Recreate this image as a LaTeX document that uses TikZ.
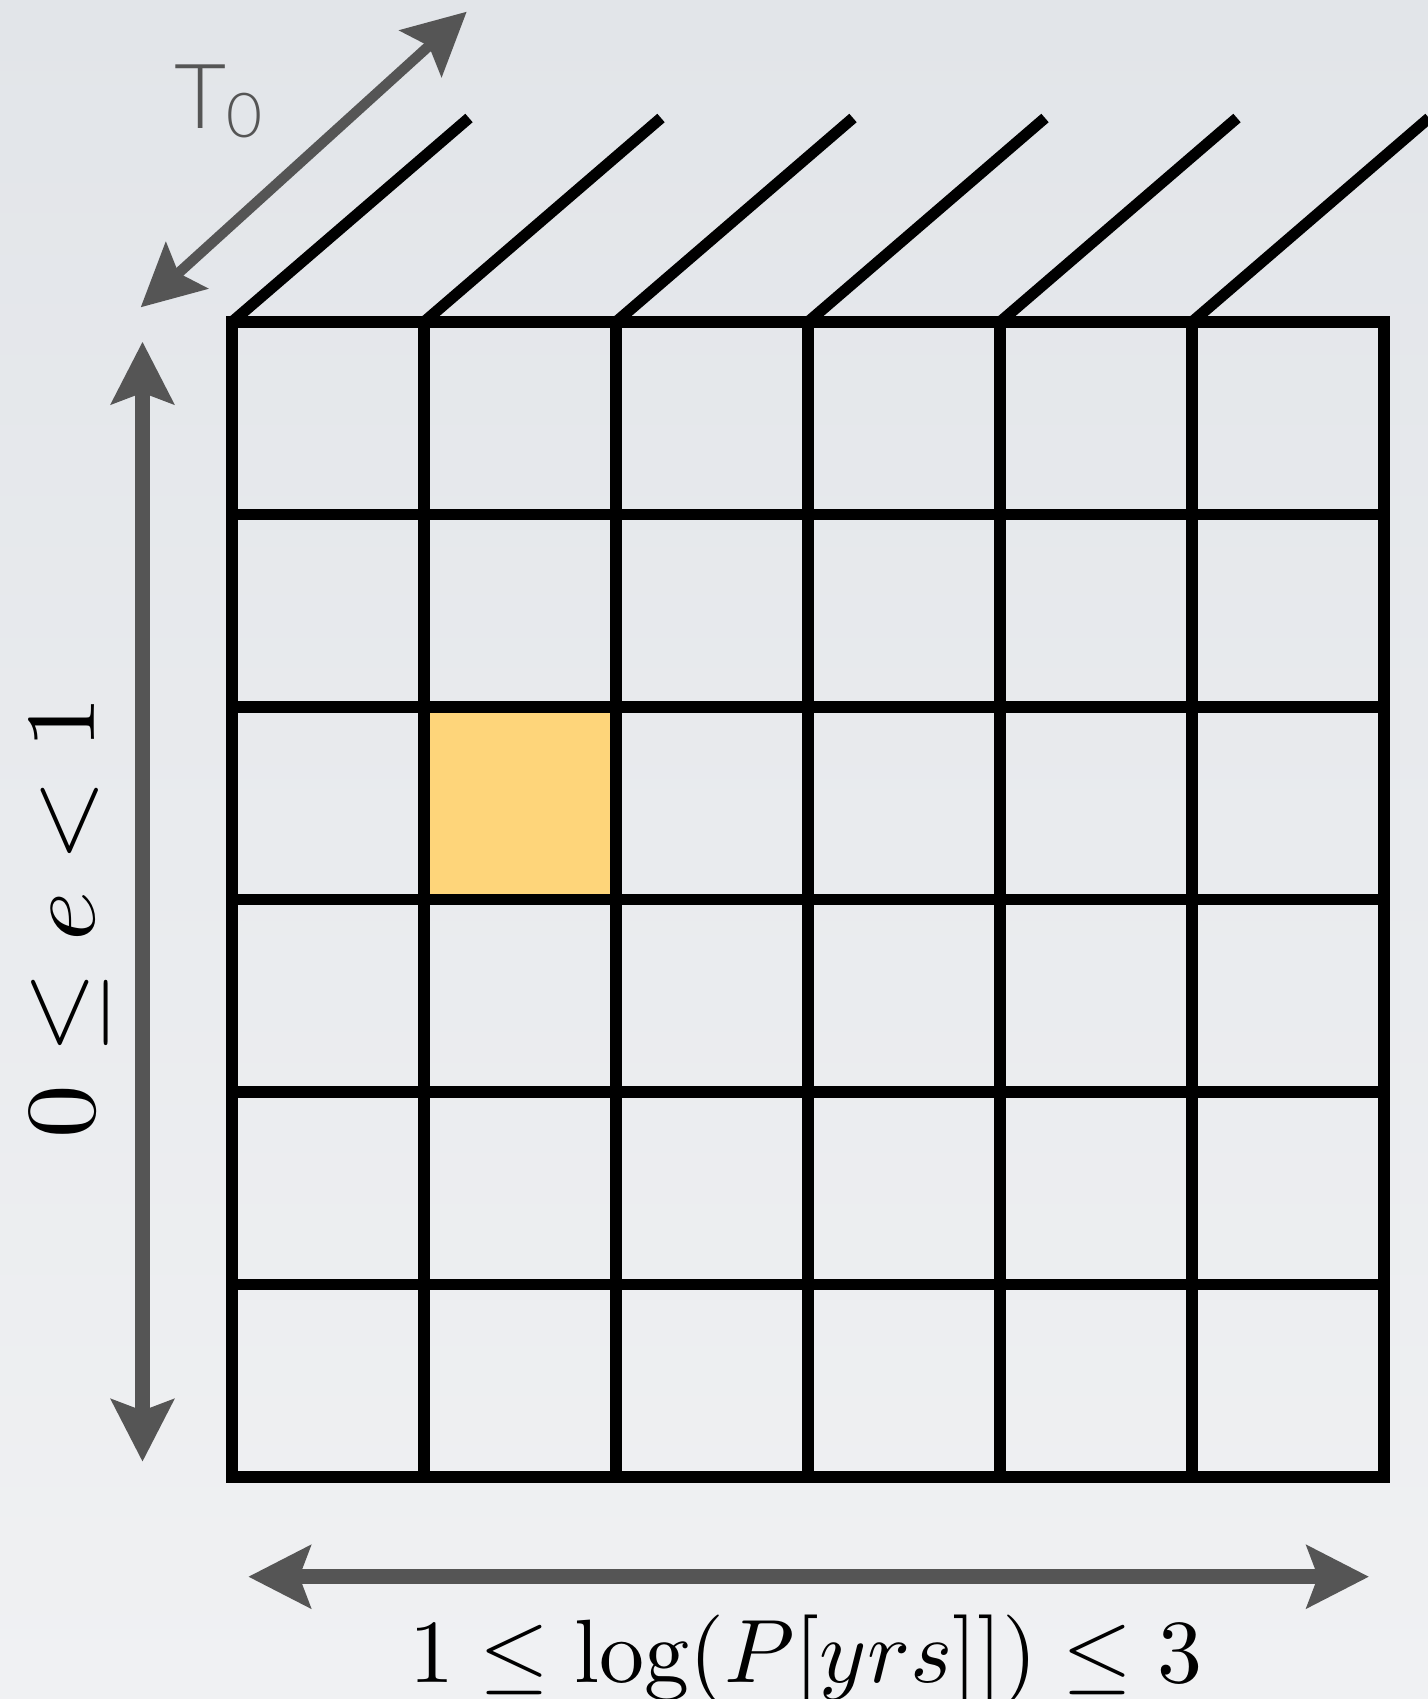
\documentclass[tikz,border=0pt]{standalone}
\usepackage{fontspec}
\newfontfamily\tfont{Lato Light}
\usetikzlibrary{arrows.meta}
\definecolor{arrowgray}{RGB}{85,85,85}
\definecolor{cellyellow}{RGB}{254,213,122}
\definecolor{bgtop}{RGB}{226,229,233}
\definecolor{bgbot}{RGB}{240,241,243}
\begin{document}
\begin{tikzpicture}[x=0.5pt,y=-0.5pt,
  gridline/.style={line width=5.6pt, draw=black},
  dimarrow/.style={draw=arrowgray, line width=7.5pt, {Stealth[length=31pt,width=31pt,inset=5.5pt]}-{Stealth[length=31pt,width=31pt,inset=5.5pt]}},
  thinarrow/.style={draw=arrowgray, line width=5.2pt, {Stealth[length=31pt,width=31pt,inset=5.5pt]}-{Stealth[length=31pt,width=31pt,inset=5.5pt]}},
]
\useasboundingbox (0,0) rectangle (1428,1699);
\clip (0,0) rectangle (1428,1699);
\shade[top color=bgtop,bottom color=bgbot] (0,0) rectangle (1428,1699);

% grid coordinates
\foreach \i in {0,...,6} {
  \coordinate (t\i) at ({232+192*\i},322);
  \coordinate (b\i) at ({232+192*\i},1477);
  \coordinate (l\i) at (232,{322+192.5*\i});
  \coordinate (r\i) at (1384,{322+192.5*\i});
}
% highlighted cell
\fill[cellyellow] (424,710) rectangle (617,902.5);

% diagonals
\foreach \i in {0,...,5} {
  \coordinate (d\i) at ({232+192*\i+237},118);
  \draw[gridline] (t\i) -- (d\i);
}
% grid lines
\foreach \i in {1,...,5} {
  \draw[gridline] (t\i) -- (b\i);
  \draw[gridline] (l\i) -- (r\i);
}
\draw[gridline] (t0) rectangle (b6);

% dimension arrows
\coordinate (tA) at (140.7,307.3);
\coordinate (tB) at (466.7,11.7);
\draw[thinarrow] (tA) -- (tB);
\coordinate (vA) at (142.5,341.7);
\coordinate (vB) at (142.5,1461.7);
\draw[dimarrow] (vA) -- (vB);
\coordinate (hA) at (248.3,1576.7);
\coordinate (hB) at (1369,1576.7);
\draw[dimarrow] (hA) -- (hB);

% labels
\node[text=arrowgray, font=\tfont\fontsize{45}{50}\selectfont, anchor=base west, inner sep=0pt] (tlabel) at (174,128) {T\raisebox{-4.5pt}{\fontsize{31}{36}\selectfont 0}};
\node[rotate=90, xscale=5.35, yscale=4.95, anchor=base, inner sep=0pt] (elabel) at (94,917) {$0\leq e<1$};
\node[anchor=base, scale=4.5, inner sep=0pt] (plabel) at (806,1682) {$1\leq\log(P[yrs]])\leq 3$};
\end{tikzpicture}
\end{document}
